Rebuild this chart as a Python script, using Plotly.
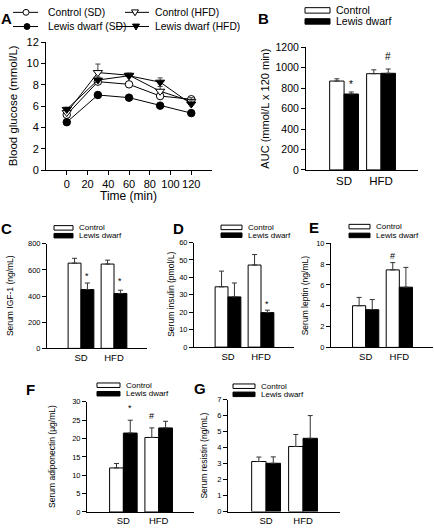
import plotly.graph_objects as go

W, H = 434, 531
FONT = "Liberation Sans, Arial, sans-serif"


def px(x):
    return x / W


def py(y):
    return 1 - y / H


# ---------------- data ----------------
time_min = [0, 30, 60, 90, 120]
ctrl_sd = [5.2, 8.3, 8.05, 6.95, 6.65]
ctrl_sd_err = [0.25, 0.3, 0.25, 0.3, 0.2]
ld_sd = [4.5, 7.05, 6.8, 6.05, 5.35]
ld_sd_err = [0.15, 0.15, 0.15, 0.15, 0.15]
ctrl_hfd = [5.4, 9.15, 8.9, 7.4, 6.45]
ctrl_hfd_err = [0.3, 0.8, 0.2, 0.45, 0.35]
ld_hfd = [5.7, 8.45, 8.85, 8.25, 6.2]
ld_hfd_err = [0.2, 0.3, 0.2, 0.4, 0.3]

diets = ["SD", "HFD"]
auc_ctrl = [870, 942]
auc_ctrl_err = [22, 38]
auc_ld = [743, 946]
auc_ld_err = [20, 42]
igf_ctrl = [652, 645]
igf_ctrl_err = [37, 30]
igf_ld = [450, 420]
igf_ld_err = [50, 25]
ins_ctrl = [34.6, 47.1]
ins_ctrl_err = [9, 6]
ins_ld = [28.8, 19.8]
ins_ld_err = [8, 1.4]
lep_ctrl = [4.0, 7.44]
lep_ctrl_err = [0.8, 0.7]
lep_ld = [3.62, 5.78]
lep_ld_err = [0.97, 1.9]
adi_ctrl = [12.0, 20.3]
adi_ctrl_err = [1.2, 2.6]
adi_ld = [21.5, 22.9]
adi_ld_err = [3.5, 1.8]
res_ctrl = [3.13, 4.07]
res_ctrl_err = [0.28, 0.75]
res_ld = [3.02, 4.58]
res_ld_err = [0.4, 1.42]

fig = go.Figure()
shapes = []
annotations = []


def note(x, y, text, size, angle=0, xanchor="center"):
    annotations.append(dict(x=px(x), y=py(y), xref="paper", yref="paper", text=text,
                            textangle=angle, showarrow=False, xanchor=xanchor,
                            yanchor="middle", font=dict(size=size)))


# ---------------- panel A ----------------
line_series = [
    ("Control (SD)", ctrl_sd, ctrl_sd_err, "circle", "white"),
    ("Lewis dwarf (SD)", ld_sd, ld_sd_err, "circle", "black"),
    ("Control (HFD)", ctrl_hfd, ctrl_hfd_err, "triangle-down", "white"),
    ("Lewis dwarf (HFD)", ld_hfd, ld_hfd_err, "triangle-down", "black"),
]
for name, vals, errs, sym, fill in line_series:
    fig.add_trace(go.Scatter(
        x=time_min, y=vals, name=name, mode="lines+markers",
        line=dict(color="black", width=1),
        marker=dict(symbol=sym, size=7.5 if sym == "circle" else 8, color=fill,
                    line=dict(color="black", width=1)),
        error_y=dict(type="data", array=errs, symmetric=False,
                     arrayminus=[0] * len(errs), color="#444",
                     thickness=1, width=2.5),
        xaxis="x", yaxis="y", showlegend=False, cliponaxis=False))

axis_common = dict(showline=True, linecolor="black", linewidth=1, showgrid=False,
                   zeroline=False, ticks="outside", ticklen=4, tickwidth=1,
                   tickcolor="black", color="black")

layout = dict(
    width=W, height=H, margin=dict(l=0, r=0, t=0, b=0),
    paper_bgcolor="white", plot_bgcolor="white",
    font=dict(family=FONT, color="black"),
    showlegend=False, barmode="overlay",
)
layout["xaxis"] = dict(axis_common, domain=[px(46), px(212)], range=[-20, 140],
                       tickvals=[0, 20, 40, 60, 80, 100, 120],
                       tickfont=dict(size=11), anchor="y")
layout["yaxis"] = dict(axis_common, domain=[py(168), py(37)], range=[0, 12],
                       dtick=2, tickfont=dict(size=11), anchor="x")
note(13, 102.5, "Blood glucose (mmol/L)", 11.5, angle=-90)
note(128, 194, "Time (min)", 12)
note(6, 13, "<b>A</b>", 15)

# legend A
leg_rows = [
    (13, 38, 26, 46, 6.5, "Control (SD)", "circle", "white"),
    (13, 38, 27, 46, 21, "Lewis dwarf (SD)", "circle", "black"),
    (125, 149, 135, 153, 6.5, "Control (HFD)", "tri", "white"),
    (116, 149, 136, 153, 21, "Lewis dwarf (HFD)", "tri", "black"),
]
for x0, x1, xm, xt, yy, label, sym, fill in leg_rows:
    shapes.append(dict(type="line", xref="paper", yref="paper", x0=px(x0), x1=px(x1),
                       y0=py(yy), y1=py(yy), line=dict(color="black", width=1)))
    if sym == "circle":
        r = 3
        shapes.append(dict(type="circle", xref="paper", yref="paper",
                           x0=px(xm - r), x1=px(xm + r), y0=py(yy - r), y1=py(yy + r),
                           fillcolor=fill, line=dict(color="black", width=1)))
    else:
        path = "M {},{} L {},{} L {},{} Z".format(px(xm - 3.5), py(yy - 2.5), px(xm + 3.5),
                                                 py(yy - 2.5), px(xm), py(yy + 3.5))
        shapes.append(dict(type="path", xref="paper", yref="paper", path=path,
                           fillcolor=fill, line=dict(color="black", width=1)))
    note(xt, yy, label, 10.3, xanchor="left")

# ---------------- bar panels ----------------
BW = 0.39
panels = [
    dict(n=2, letter="B", ctrl=auc_ctrl, ce=auc_ctrl_err, ld=auc_ld, le=auc_ld_err,
         xd=(306, 418), yd=(42.3, 167.7), yr=1200, dt=200,
         title="AUC (mmol/L x 120 min)", tx=265, lp=(263, 13),
         leg=(305, 330, 4.5, 15.8), tsz=10.5, xtsz=11.5, ttsz=11, lsz=10.5,
         marks=[("*", 0.195, 840), ("#", 1.195, 1110)]),
    dict(n=3, letter="C", ctrl=igf_ctrl, ce=igf_ctrl_err, ld=igf_ld, le=igf_ld_err,
         xd=(47, 147), yd=(243.3, 350.3), yr=800, dt=200,
         title="Serum IGF-1 (ng/mL)", tx=10, lp=(6, 228),
         leg=(54, 73, 227, 235), tsz=7.5, xtsz=9.5, ttsz=8.5, lsz=8,
         marks=[("*", 0.195, 555), ("*", 1.195, 515)]),
    dict(n=4, letter="D", ctrl=ins_ctrl, ce=ins_ctrl_err, ld=ins_ld, le=ins_ld_err,
         xd=(194, 294), yd=(242, 349), yr=60, dt=10,
         title="Serum insulin (pmol/L)", tx=171, lp=(178, 228),
         leg=(221, 242, 226.5, 234.5), tsz=7.5, xtsz=9.5, ttsz=8.5, lsz=8,
         marks=[("*", 1.195, 25)]),
    dict(n=5, letter="E", ctrl=lep_ctrl, ce=lep_ctrl_err, ld=lep_ld, le=lep_ld_err,
         xd=(331, 433), yd=(242.7, 349.3), yr=10, dt=2,
         title="Serum leptin (ng/mL)", tx=305, lp=(314, 227),
         leg=(349, 370, 225.7, 234.7), tsz=7.5, xtsz=9.5, ttsz=8.5, lsz=8,
         marks=[("#", 0.805, 8.75)]),
    dict(n=6, letter="F", ctrl=adi_ctrl, ce=adi_ctrl_err, ld=adi_ld, le=adi_ld_err,
         xd=(87, 194), yd=(405, 517.7), yr=30, dt=5,
         title="Serum adiponectin (µg/mL)", tx=52, lp=(30, 392),
         leg=(97, 120, 388, 396.7), tsz=7.5, xtsz=9.5, ttsz=8.5, lsz=8,
         marks=[("*", 0.195, 28.2), ("#", 0.805, 26.2)]),
    dict(n=7, letter="G", ctrl=res_ctrl, ce=res_ctrl_err, ld=res_ld, le=res_ld_err,
         xd=(228, 340), yd=(402.7, 517.3), yr=7, dt=1,
         title="Serum resistin (ng/mL)", tx=204, lp=(200, 391),
         leg=(233, 255, 389, 397.3), tsz=7.5, xtsz=9.5, ttsz=8.5, lsz=8,
         marks=[]),
]

for p in panels:
    n = p["n"]
    xa, ya = "x%d" % n, "y%d" % n
    for vals, errs, fill, off in ((p["ctrl"], p["ce"], "white", -BW),
                                  (p["ld"], p["le"], "black", 0.0)):
        fig.add_trace(go.Bar(
            x=diets, y=vals, width=BW, offset=off,
            marker=dict(color=fill, line=dict(color="black", width=1)),
            error_y=dict(type="data", array=errs, symmetric=False,
                         arrayminus=[0, 0], color="#333", thickness=1, width=2.5),
            xaxis=xa, yaxis=ya, showlegend=False))
    layout["xaxis%d" % n] = dict(axis_common, domain=[px(p["xd"][0]), px(p["xd"][1])],
                                 range=[-1.03, 2], type="category", ticks="",
                                 tickfont=dict(size=p["xtsz"]), anchor=ya)
    layout["yaxis%d" % n] = dict(axis_common, domain=[py(p["yd"][1]), py(p["yd"][0])],
                                 range=[0, p["yr"]], dtick=p["dt"],
                                 tickfont=dict(size=p["tsz"]), anchor=xa)
    ymid = (p["yd"][0] + p["yd"][1]) / 2
    note(p["tx"], ymid, p["title"], p["ttsz"], angle=-90)
    note(p["lp"][0], p["lp"][1], "<b>%s</b>" % p["letter"], 15)
    lx0, lx1, r1, r2 = p["leg"]
    hh = 2.3 if n > 2 else 2.8
    for yy, fill, label in ((r1, "white", "Control"), (r2, "black", "Lewis dwarf")):
        shapes.append(dict(type="rect", xref="paper", yref="paper",
                           x0=px(lx0), x1=px(lx1), y0=py(yy - hh), y1=py(yy + hh),
                           fillcolor=fill, line=dict(color="black", width=1)))
        note(lx1 + 4, yy, label, p["lsz"], xanchor="left")
    for sym, xoff, yv in p["marks"]:
        annotations.append(dict(x=xoff, y=yv, xref=xa, yref=ya, text=sym,
                                showarrow=False, xanchor="center", yanchor="middle",
                                font=dict(size=9 if n > 2 else 10)))

layout["shapes"] = shapes
layout["annotations"] = annotations
fig.update_layout(**layout)
fig.write_html("out.html", config={"displayModeBar": False},
               post_script="document.body.style.margin='0';document.body.style.padding='0';")
